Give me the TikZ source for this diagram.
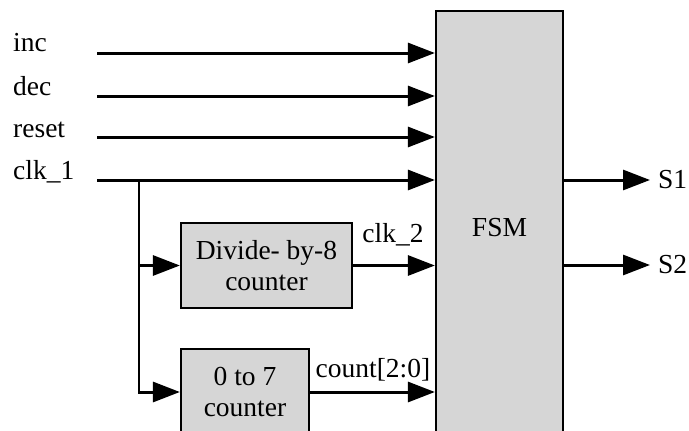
\documentclass[tikz,border=0pt]{standalone}
\usepackage{fontspec}
\setmainfont{Liberation Serif}
\usetikzlibrary{arrows.meta}
\definecolor{boxgray}{HTML}{D6D6D6}
\tikzset{
  sig/.style={line width=3pt, -{Triangle[length=27pt,width=20pt]}},
  branch/.style={line width=2.2pt},
  blk/.style={draw, line width=2.2pt, fill=boxgray, inner sep=0pt, align=center},
  lbl/.style={inner sep=0pt, anchor=base west},
}
\begin{document}
\begin{tikzpicture}[x=1pt,y=-1pt, font=\fontsize{27.5}{31}\selectfont]
\useasboundingbox (0,0) rectangle (689,431);
\clip (0,0) rectangle (689,431);
% blocks
\node[blk, minimum width=127pt, minimum height=434pt] (fsm) at (499.5,228) {FSM};
\node[blk, minimum width=171pt, minimum height=85pt] (div) at (266.5,265.5) {Divide- by-8\\counter};
\node[blk, minimum width=128pt, minimum height=86pt] (cnt) at (245,392) {0 to 7\\counter};
% input labels
\node[lbl] (linc) at (13,52) {inc};
\node[lbl] (ldec) at (13,95) {dec};
\node[lbl] (lres) at (13,137) {reset};
\node[lbl] (lclk) at (13,179) {clk\_1};
% line starts
\coordinate (sinc) at (97,53);
\coordinate (sdec) at (97,96);
\coordinate (sres) at (97,137);
\coordinate (sclk) at (97,180);
\coordinate (br) at (139,180);
\draw[sig] (sinc) -- (fsm.west |- sinc);
\draw[sig] (sdec) -- (fsm.west |- sdec);
\draw[sig] (sres) -- (fsm.west |- sres);
\draw[sig] (sclk) -- (fsm.west |- sclk);
% branch
\coordinate (bdiv) at (br |- div.west);
\coordinate (bcnt) at (br |- cnt.west);
\draw[branch] ([yshift=-1pt]br) -- ([yshift=1.2pt]bcnt);
\draw[sig] ([xshift=-1pt]bdiv) -- (div.west);
\draw[sig] ([xshift=-1pt]bcnt) -- (cnt.west);
% block outputs
\draw[sig] (div.east) -- (fsm.west |- div.east);
\draw[sig] (cnt.east) -- (fsm.west |- cnt.east);
\node[lbl, anchor=base] (lclk2) at (393,242) {clk\_2};
\node[lbl, anchor=base] (lcount) at (373,377) {count[2:0]};
% outputs
\coordinate (s1) at (650,180);
\coordinate (s2) at (650,265);
\draw[sig] (fsm.east |- s1) -- (s1);
\draw[sig] (fsm.east |- s2) -- (s2);
\node[lbl, anchor=base west] (ls1) at (658,188) {S1};
\node[lbl, anchor=base west] (ls2) at (658,273) {S2};
\end{tikzpicture}
\end{document}
